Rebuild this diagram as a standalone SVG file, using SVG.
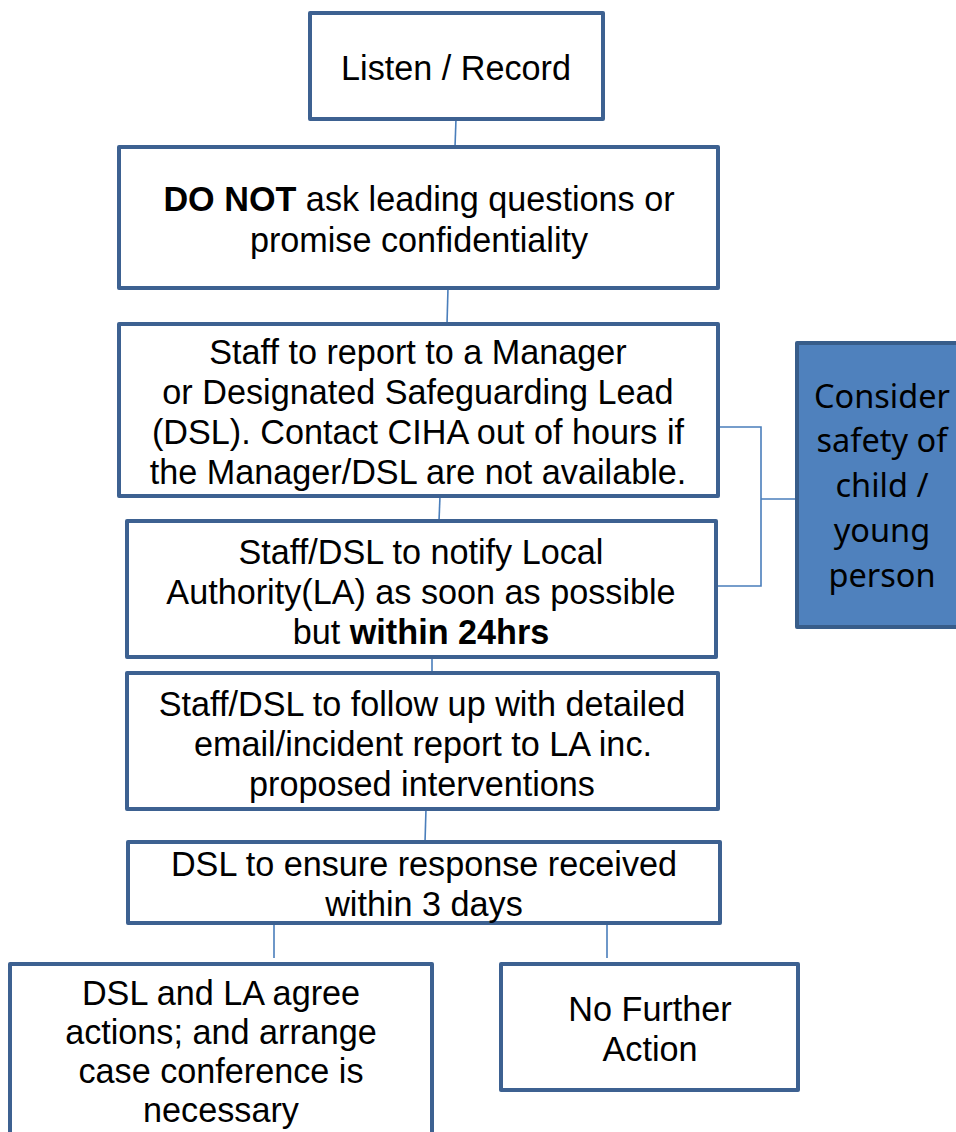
<svg xmlns="http://www.w3.org/2000/svg" width="956" height="1132" viewBox="0 0 956 1132">
<style>
.box{fill:#ffffff;stroke:#3d6191;stroke-width:4;stroke-linejoin:round}
.side{fill:#4f81bd;stroke:#385d8a;stroke-width:4;stroke-linejoin:round}
.t{font-family:"Liberation Sans",Arial,sans-serif;font-size:34.2px;fill:#000;text-anchor:middle}
.s{font-family:"Noto Sans","Open Sans",sans-serif;font-size:32.5px;fill:#000;text-anchor:middle}
.b{font-weight:bold}
.c{fill:none;stroke:#4a7ebb;stroke-width:1.6}
</style>
<rect width="956" height="1132" fill="#ffffff"/>
<g id="connectors">
<line class="c" x1="456" y1="119" x2="455" y2="147"/>
<line class="c" x1="448" y1="288" x2="447" y2="324"/>
<line class="c" x1="440" y1="496" x2="439" y2="521"/>
<line class="c" x1="432" y1="657" x2="432" y2="673"/>
<line class="c" x1="426" y1="809" x2="425" y2="842"/>
<line class="c" x1="274" y1="925" x2="274" y2="958"/>
<line class="c" x1="607" y1="925" x2="607" y2="958"/>
<polyline class="c" points="718,427 761,427 761,586 716,586"/>
<line class="c" x1="761" y1="499" x2="797" y2="499"/>
</g>
<g id="n1">
<rect class="box" x="310" y="13" width="293" height="106"/>
<text class="t" x="456" y="80">Listen / Record</text>
</g>
<g id="n2">
<rect class="box" x="119" y="147" width="599" height="141"/>
<text class="t" x="419" y="211"><tspan class="b">DO NOT</tspan> ask leading questions or</text>
<text class="t" x="419" y="252">promise confidentiality</text>
</g>
<g id="n3">
<rect class="box" x="119" y="324" width="599" height="172"/>
<text class="t" x="418" y="364">Staff to report to a Manager</text>
<text class="t" x="418" y="404">or Designated Safeguarding Lead</text>
<text class="t" x="418" y="444">(DSL). Contact CIHA out of hours if</text>
<text class="t" x="418" y="484">the Manager/DSL are not available.</text>
</g>
<g id="n4">
<rect class="box" x="127" y="521" width="589" height="136"/>
<text class="t" x="421" y="564">Staff/DSL to notify Local</text>
<text class="t" x="421" y="604">Authority(LA) as soon as possible</text>
<text class="t" x="421" y="644">but <tspan class="b">within 24hrs</tspan></text>
</g>
<g id="n5">
<rect class="box" x="127" y="673" width="591" height="136"/>
<text class="t" x="422" y="716">Staff/DSL to follow up with detailed</text>
<text class="t" x="423" y="756">email/incident report to LA inc.</text>
<text class="t" x="422" y="796">proposed interventions</text>
</g>
<g id="n6">
<rect class="box" x="128" y="842" width="592" height="81"/>
<text class="t" x="424" y="876">DSL to ensure response received</text>
<text class="t" x="424" y="916">within 3 days</text>
</g>
<g id="n7">
<rect class="box" x="10" y="964" width="422" height="190"/>
<text class="t" x="221" y="1005">DSL and LA agree</text>
<text class="t" x="221" y="1044">actions; and arrange</text>
<text class="t" x="221" y="1083">case conference is</text>
<text class="t" x="221" y="1122">necessary</text>
</g>
<g id="n8">
<rect class="box" x="501" y="964" width="297" height="126"/>
<text class="t" x="650" y="1021">No Further</text>
<text class="t" x="650" y="1061">Action</text>
</g>
<g id="n9">
<rect class="side" x="797" y="343" width="175" height="284"/>
<text class="s" x="882" y="408">Consider</text>
<text class="s" x="882" y="452">safety of</text>
<text class="s" x="882" y="497">child /</text>
<text class="s" x="882" y="542">young</text>
<text class="s" x="882" y="587">person</text>
</g>
</svg>
